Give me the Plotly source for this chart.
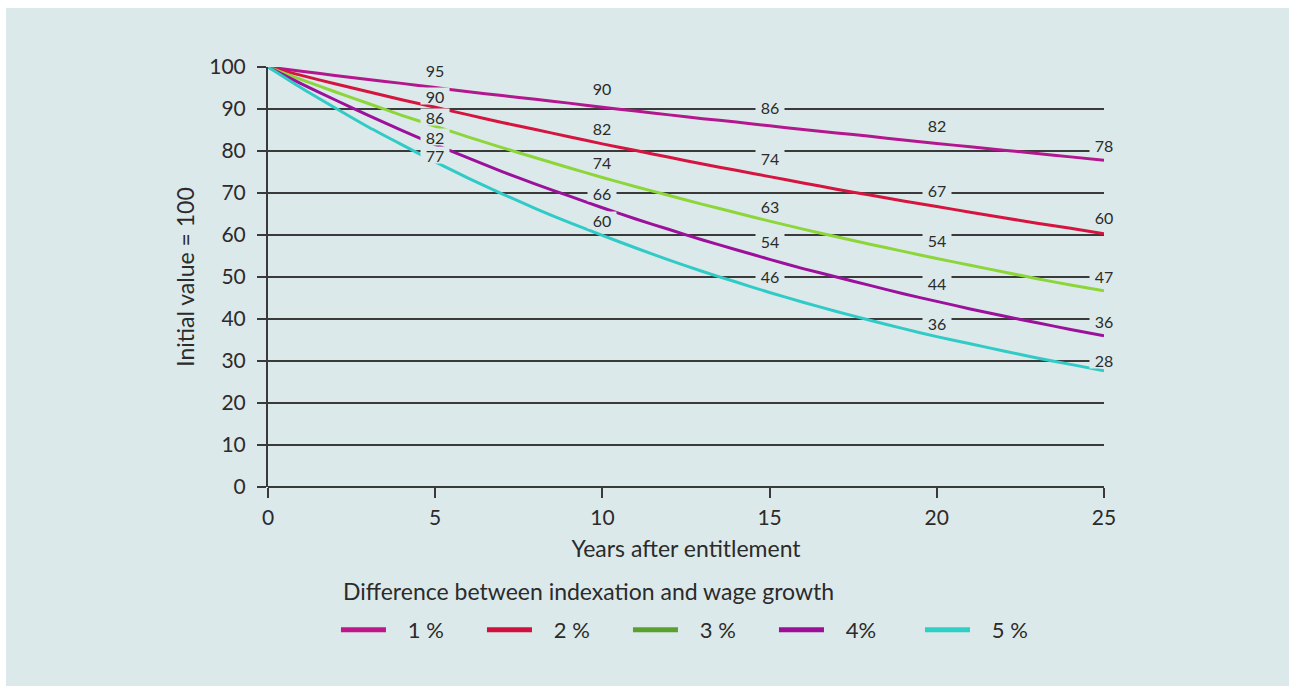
import plotly.graph_objects as go

# Years after entitlement
years = list(range(26))

# Relative value of the benefit (initial value = 100) for each gap between indexation and wage growth
series_names = ["1 %", "2 %", "3 %", "4%", "5 %"]
value_1pct = [100, 99.0, 98.0, 97.0, 96.1, 95.1, 94.1, 93.2, 92.3, 91.4, 90.4, 89.5, 88.6,
              87.7, 86.9, 86.0, 85.1, 84.3, 83.5, 82.6, 81.8, 81.0, 80.2, 79.4, 78.6, 77.8]
value_2pct = [100, 98.0, 96.0, 94.1, 92.2, 90.4, 88.6, 86.8, 85.1, 83.4, 81.7, 80.1, 78.5,
              76.9, 75.4, 73.9, 72.4, 70.9, 69.5, 68.1, 66.8, 65.4, 64.1, 62.8, 61.6, 60.3]
value_3pct = [100, 97.0, 94.1, 91.3, 88.5, 85.9, 83.3, 80.8, 78.4, 76.0, 73.7, 71.5, 69.4,
              67.3, 65.3, 63.3, 61.4, 59.6, 57.8, 56.1, 54.4, 52.8, 51.2, 49.6, 48.1, 46.7]
value_4pct = [100, 96.0, 92.2, 88.5, 84.9, 81.54, 78.3, 75.1, 72.1, 69.3, 66.48, 63.8, 61.3,
              58.8, 56.5, 54.2, 52.0, 50.0, 48.0, 46.0, 44.2, 42.4, 40.7, 39.1, 37.5, 36.0]
value_5pct = [100, 95.0, 90.3, 85.7, 81.5, 77.4, 73.5, 69.8, 66.3, 63.0, 59.9, 56.9, 54.0,
              51.3, 48.8, 46.3, 44.0, 41.8, 39.7, 37.7, 35.8, 34.1, 32.4, 30.7, 29.2, 27.7]
all_values = [value_1pct, value_2pct, value_3pct, value_4pct, value_5pct]

# Years at which the values are labelled
label_years = [5, 10, 15, 20, 25]
x_ticks = [0, 5, 10, 15, 20, 25]
y_ticks = list(range(0, 101, 10))

# Styling
line_colors = ["#b3178e", "#d5143f", "#8cd63a", "#9b119c", "#30cbc6"]
legend_colors = ["#c0168c", "#d0103e", "#5aa02e", "#9c0f98", "#2ecfc4"]
panel_color = "#dce9ea"
text_color = "#2b2b2b"
grid_color = "#3a3a3a"
font_family = "Lato, 'Open Sans', sans-serif"
NBSP = "\u00a0"

# Vertical offsets (px) of the value labels above their points, per series and label year
label_shift = [
    [18, 19, 19, 18, 15],
    [11, 16, 19, 16, 17],
    [9, 15, 15, 19, 15],
    [8, 15, 18, 18, 15],
    [7, 15, 17, 14, 11],
]

fig = go.Figure()

for name, vals, col in zip(series_names, all_values, line_colors):
    fig.add_trace(go.Scatter(
        x=years, y=vals, mode="lines", name=name, showlegend=False,
        line=dict(color=col, width=3, shape="spline", smoothing=0.6),
        hoverinfo="x+y",
    ))

# Legend entries
for name, col in zip(series_names, legend_colors):
    fig.add_trace(go.Scatter(
        x=[None], y=[None], mode="lines", name=NBSP * 3 + name,
        line=dict(color=col, width=5),
    ))

# Value labels
for vals, shifts in zip(all_values, label_shift):
    for yr, dy in zip(label_years, shifts):
        v = vals[years.index(yr)]
        fig.add_annotation(
            x=yr, y=v, xref="x", yref="y", text=str(round(v)),
            showarrow=False, yshift=dy, width=28, height=16,
            bgcolor=panel_color, borderpad=0,
            font=dict(family=font_family, size=16, color=text_color),
        )

# Legend heading
fig.add_annotation(
    x=0.0873, y=-0.2476, xref="paper", yref="paper", xanchor="left", yanchor="middle",
    text="Difference between indexation and wage growth", showarrow=False,
    font=dict(family=font_family, size=23, color=text_color),
)

# Panel background
fig.add_shape(type="rect", xref="paper", yref="paper",
              x0=-0.3134, x1=1.2213, y0=-0.4738, y1=1.1405,
              fillcolor=panel_color, line=dict(width=0), layer="below")

fig.update_layout(
    width=1296, height=686,
    margin=dict(l=268, r=192, t=67, b=199),
    paper_bgcolor="white", plot_bgcolor=panel_color,
    font=dict(family=font_family, color=text_color, size=20),
    showlegend=True,
    legend=dict(
        orientation="h", x=0.0813, xanchor="left", y=-0.3405, yanchor="middle",
        bgcolor="rgba(0,0,0,0)",
        font=dict(size=22), itemwidth=45, entrywidth=86,
    ),
    xaxis=dict(
        range=[0, 25], tickvals=x_ticks,
        showgrid=False, zeroline=False, showline=False,
        ticks="outside", ticklen=10, tickwidth=2, tickcolor=grid_color,
        tickfont=dict(size=21), ticklabelstandoff=2,
        title=dict(text="Years after entitlement", standoff=12, font=dict(size=23)),
    ),
    yaxis=dict(
        range=[0, 100], tickvals=y_ticks,
        showgrid=True, gridcolor=grid_color, gridwidth=1.5,
        zeroline=True, zerolinecolor=grid_color, zerolinewidth=2,
        showline=True, linecolor=grid_color, linewidth=2,
        ticks="outside", ticklen=9, tickwidth=2, tickcolor=grid_color,
        tickfont=dict(size=21), ticklabelstandoff=7,
        title=dict(text="Initial value = 100", standoff=8, font=dict(size=23)),
    ),
)

fig.write_html("out.html")
